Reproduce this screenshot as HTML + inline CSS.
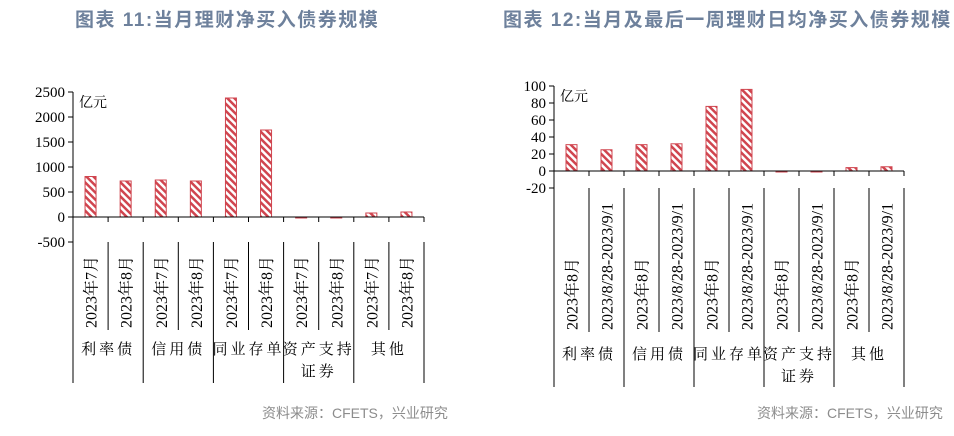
<!DOCTYPE html>
<html><head><meta charset="utf-8"><style>
body{margin:0;background:#fff;width:954px;height:431px;overflow:hidden}
svg text{font-family:"Liberation Serif","Noto Serif CJK SC",serif;fill:#000}
.t{font-family:"Liberation Sans","Noto Sans CJK SC",sans-serif;font-weight:bold;font-size:19px;letter-spacing:1.5px;fill:#6e819c}
.s{font-family:"Liberation Sans","Noto Sans CJK SC",sans-serif;font-size:14px;fill:#8c8c8c}
</style></head><body>
<svg id="svg" width="954" height="431">
<defs><pattern id="h" patternUnits="userSpaceOnUse" width="5" height="5" patternTransform="rotate(-45)"><rect width="5" height="5" fill="#fff"/><rect width="2.5" height="5" fill="#d0454f"/></pattern></defs>
<text class="t" x="75" y="26">图表 11:当月理财净买入债券规模</text>
<text class="t" x="503" y="26">图表 12:当月及最后一周理财日均净买入债券规模</text>
<text class="s" x="262" y="418">资料来源：CFETS，兴业研究</text>
<text class="s" x="757" y="418">资料来源：CFETS，兴业研究</text>
</svg>
<script>
const groups=["利率债","信用债","同业存单","资产支持|证券","其他"];
const leftSub=["2023年7月","2023年8月"];
const leftVals=[810,720,740,720,2380,1740,-15,-15,80,100];
const leftTicks=[2500,2000,1500,1000,500,0,-500];
const rightSub=["2023年8月","2023/8/28-2023/9/1"];
const rightVals=[31,25,31,32,76,96,-1,-1,4,5];
const rightTicks=[100,80,60,40,20,0,-20];
const NS="http://www.w3.org/2000/svg",svg=document.getElementById('svg');
function mk(t,a,txt){const e=document.createElementNS(NS,t);for(const k in a)e.setAttribute(k,a[k]);if(txt!=null)e.textContent=txt;svg.appendChild(e);return e;}
function chart(o){
 const Y=v=>o.yBot-(v-o.vmin)/(o.vmax-o.vmin)*(o.yBot-o.yTop);
 const slot=(o.xR-o.x0)/o.vals.length;
 let a=mk('line',{x1:o.x0,y1:o.yTop,x2:o.x0,y2:o.yBot,stroke:'#000'});
 
 o.ticks.forEach(t=>{const yy=Y(t);mk('line',{x1:o.x0-5,y1:yy,x2:o.x0,y2:yy,stroke:'#000'});
  const e=mk('text',{x:o.x0-8,y:yy+5,'text-anchor':'end','font-size':15},t);
  });
 const u=mk('text',{x:o.x0+6,y:o.yTop+15,'font-size':14},'亿元');
 
 o.vals.forEach((v,i)=>{const cx=o.x0+slot*(i+0.5),y1=Y(Math.max(v,0)),y2=Y(Math.min(v,0));
  const r=mk('rect',{x:cx-5.5,y:y1,width:11,height:Math.max(y2-y1,1),fill:'url(#h)',stroke:'#d0454f','stroke-width':1});
  
  const lt=mk('text',{transform:`translate(${cx+6},${o.subBot}) rotate(-90)`,'font-size':16},o.sub[i%2]);
  });
 const y0=Y(0);
 mk('line',{x1:o.x0,y1:y0,x2:o.xR,y2:y0,stroke:'#000'});
 for(let i=1;i<=o.vals.length;i++){const x=o.x0+slot*i;mk('line',{x1:x,y1:y0,x2:x,y2:y0+5,stroke:'#000'});
  mk('line',{x1:x,y1:o.yBot,x2:x,y2:i%2?o.subBot+2:o.grpBot,stroke:'#000'});}
 mk('line',{x1:o.x0,y1:o.yBot,x2:o.x0,y2:o.grpBot,stroke:'#000'});
 groups.forEach((g,i)=>{const cx=o.x0+slot*(2*i+1);g.split('|').forEach((l,j)=>{
  const e=mk('text',{x:cx,y:o.gy+j*22,'text-anchor':'middle','font-size':15,'letter-spacing':'3'},l);
  });});
}
chart({p:'left',x0:73,xR:424,yTop:92,yBot:242,vmin:-500,vmax:2500,ticks:leftTicks,vals:leftVals,sub:leftSub,subBot:328,grpBot:383,gy:354});
chart({p:'right',x0:554,xR:904,yTop:86,yBot:188,vmin:-20,vmax:100,ticks:rightTicks,vals:rightVals,sub:rightSub,subBot:330,grpBot:387,gy:359});
</script>
</body></html>
